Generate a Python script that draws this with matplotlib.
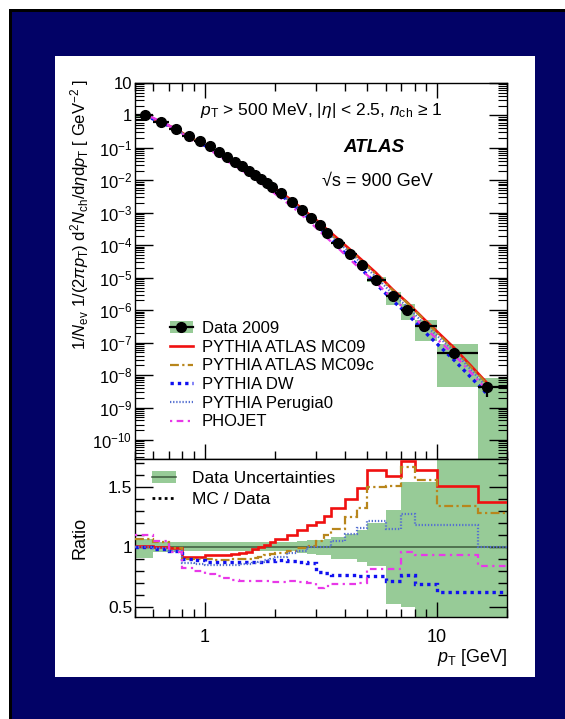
import numpy as np
import matplotlib
matplotlib.use("Agg")
import matplotlib.pyplot as plt
from matplotlib.patches import Rectangle, Patch
from matplotlib.lines import Line2D
from matplotlib.ticker import FixedLocator, MultipleLocator, FuncFormatter, NullFormatter

plt.rcParams['font.family'] = ['Liberation Sans', 'DejaVu Sans']
plt.rcParams['mathtext.fontset'] = 'custom'
plt.rcParams['mathtext.rm'] = 'Liberation Sans'
plt.rcParams['mathtext.it'] = 'Liberation Sans:italic'
plt.rcParams['mathtext.bf'] = 'Liberation Sans:bold'

# ---- pT binning [GeV] ----
pt_edges = [0.5, 0.6, 0.7, 0.8, 0.9, 1.0, 1.1, 1.2, 1.3, 1.4, 1.5, 1.6, 1.7, 1.8, 1.9,
            2.0, 2.25, 2.5, 2.75, 3.0, 3.25, 3.5, 4.0, 4.5, 5.0, 6.0, 7.0, 8.0, 10.0, 15.0, 20.0]
pt_points = [0.55, 0.65, 0.75, 0.85, 0.95, 1.05, 1.15, 1.25, 1.35, 1.45, 1.55, 1.65, 1.75, 1.85, 1.95,
             2.12, 2.37, 2.62, 2.87, 3.12, 3.37, 3.74, 4.23, 4.73, 5.45, 6.45, 7.45, 8.8, 11.8, 16.4]

# ---- measured spectrum, 1/Nev 1/(2 pi pT) d2N/deta dpT [GeV^-2] ----
data_yield = [1.0, 0.62, 0.39, 0.24, 0.162, 0.112, 0.074, 0.052, 0.038, 0.0275, 0.020, 0.0148,
              0.011, 0.0083, 0.0063, 0.0040, 0.0022, 0.00118, 0.00068, 0.00041, 0.00024, 0.00012,
              5.2e-5, 2.4e-5, 8.7e-6, 2.7e-6, 1.0e-6, 3.2e-7, 4.7e-8, 4.2e-9]
stat_rel = [0.005] * 24 + [0.03, 0.05, 0.08, 0.10, 0.18, 0.48]
unc_up = [0.07, 0.045, 0.045] + [0.04] * 14 + [0.05, 0.055, 0.06, 0.065, 0.08, 0.11, 0.14,
                                               0.20, 0.31, 0.54, 0.54, 1.0, 1.0]
unc_dn = [0.09, 0.045, 0.045] + [0.035] * 14 + [0.05, 0.06, 0.065, 0.07, 0.095, 0.10, 0.12,
                                                0.16, 0.47, 0.50, 0.64, 0.91, 0.999]

# ---- MC / Data ratios per bin ----
ratio_mc09 = [1.01, 1.00, 0.99, 0.92, 0.92, 0.93, 0.93, 0.93, 0.94, 0.95, 0.96, 0.98, 1.00, 1.02, 1.04,
              1.07, 1.10, 1.14, 1.18, 1.21, 1.26, 1.32, 1.40, 1.49, 1.64, 1.59, 1.71, 1.64, 1.51, 1.37]
ratio_mc09c = [1.07, 1.04, 0.99, 0.90, 0.90, 0.90, 0.895, 0.895, 0.90, 0.90, 0.905, 0.91, 0.92, 0.93, 0.94,
               0.95, 0.97, 0.99, 1.01, 1.05, 1.10, 1.15, 1.25, 1.32, 1.50, 1.51, 1.66, 1.56, 1.34, 1.28]
ratio_dw = [1.00, 0.98, 0.97, 0.90, 0.89, 0.88, 0.875, 0.875, 0.875, 0.875, 0.875, 0.88, 0.88, 0.885, 0.885,
            0.89, 0.885, 0.88, 0.87, 0.79, 0.785, 0.77, 0.77, 0.76, 0.76, 0.72, 0.77, 0.69, 0.63, 0.63]
ratio_perugia0 = [1.00, 0.99, 0.97, 0.87, 0.86, 0.85, 0.85, 0.85, 0.85, 0.86, 0.86, 0.87, 0.88, 0.89, 0.90,
                  0.92, 0.95, 0.97, 1.00, 1.00, 1.00, 1.05, 1.11, 1.16, 1.22, 1.15, 1.27, 1.18, 1.18, 1.00]
ratio_phojet = [1.10, 1.05, 0.96, 0.83, 0.80, 0.78, 0.76, 0.74, 0.73, 0.72, 0.72, 0.715, 0.715, 0.715, 0.71,
                0.71, 0.715, 0.71, 0.70, 0.66, 0.68, 0.69, 0.69, 0.70, 0.82, 0.82, 0.96, 0.93, 0.93, 0.84]

mc_labels = ['PYTHIA ATLAS MC09', 'PYTHIA ATLAS MC09c', 'PYTHIA DW', 'PYTHIA Perugia0', 'PHOJET']

# ---- styles ----
navy = '#020266'
green = '#97cb97'
mc_styles = [
    dict(color='#f01010', lw=1.9, ls='-'),
    dict(color='#b8861c', lw=1.6, ls=(0, (4, 1.5, 1, 1.5))),
    dict(color='#1010f0', lw=2.4, ls=(0, (1, 1.2))),
    dict(color='#5570d0', lw=1.6, ls=(0, (0.6, 0.8))),
    dict(color='#e838e8', lw=1.6, ls=(0, (1, 2, 3, 2))),
]
mc_ratios = [ratio_mc09, ratio_mc09c, ratio_dw, ratio_perugia0, ratio_phojet]

edges = np.array(pt_edges)
pts = np.array(pt_points)
yv = np.array(data_yield)
up = np.array(unc_up)
dn = np.array(unc_dn)

W, H = 565, 719
fig = plt.figure(figsize=(W / 100, H / 100), dpi=100, facecolor=navy)

def fx(px):
    return px / W

def fy(py):
    return 1 - py / H

def frame_rect(x0, y0, w, h, color, z):
    fig.patches.append(Rectangle((fx(x0), fy(y0 + h)), w / W, h / H, transform=fig.transFigure,
                                 facecolor=color, edgecolor='none', lw=0, zorder=z))

# page frame
frame_rect(0, 0, W, 9, 'white', -5)
frame_rect(0, 0, 9, H, 'white', -5)
frame_rect(9, 9, W - 9, 3, 'black', -4)
frame_rect(9, 9, 3, H - 9, 'black', -4)
frame_rect(55, 56, 480, 621, 'white', -3)

ax = fig.add_axes([fx(135), fy(459), 372 / W, 376 / H])
rax = fig.add_axes([fx(135), fy(617), 372 / W, 158 / H], sharex=ax)

# ---- main panel ----
widths = np.diff(edges)
ax.bar(edges[:-1], yv * (up + dn), bottom=yv * (1 - dn), width=widths, align='edge',
       color=green, lw=0, zorder=1)
for r, st in zip(mc_ratios, mc_styles):
    ax.plot(pts, yv * np.array(r), zorder=2, **st)
ax.errorbar(pts, yv, xerr=[pts - edges[:-1], edges[1:] - pts], yerr=yv * np.array(stat_rel),
            fmt='o', color='black', ms=7, lw=1.6, capsize=0, zorder=3)

ax.set_xscale('log')
ax.set_yscale('log')
ax.set_xlim(0.5, 20)
ax.set_ylim(2.6e-11, 10)

ax.yaxis.set_major_locator(FixedLocator([10.0 ** k for k in range(-10, 2)]))
ax.yaxis.set_minor_locator(FixedLocator([m * 10.0 ** k for k in range(-11, 1) for m in range(2, 10)]))

def ylab(v, pos):
    k = int(round(np.log10(v)))
    if k == 1:
        return '10'
    if k == 0:
        return '1'
    return r'$10^{%d}$' % k

ax.yaxis.set_major_formatter(FuncFormatter(ylab))
ax.yaxis.set_minor_formatter(NullFormatter())

xmaj = [1.0, 10.0]
xmin = [0.5, 0.6, 0.7, 0.8, 0.9, 2, 3, 4, 5, 6, 7, 8, 9, 20]
for a in (ax, rax):
    a.xaxis.set_major_locator(FixedLocator(xmaj))
    a.xaxis.set_minor_locator(FixedLocator(xmin))
    a.xaxis.set_minor_formatter(NullFormatter())
    for s in a.spines.values():
        s.set_linewidth(1.0)

ax.tick_params(axis='x', which='both', direction='in', top=True, bottom=True, labelbottom=False)
ax.tick_params(axis='x', which='major', length=11, width=1.0)
ax.tick_params(axis='x', which='minor', length=5.5, width=1.0)
ax.tick_params(axis='y', which='both', direction='in', left=True, right=True, labelsize=12, pad=2)
ax.tick_params(axis='y', which='major', length=13, width=1.0)
ax.tick_params(axis='y', which='minor', length=6.5, width=0.8)

# legend, main panel
data_handle = (Patch(facecolor=green, edgecolor='none'),
               Line2D([], [], color='black', lw=1.6, marker='o', ms=7))
mc_handles = [Line2D([], [], **st) for st in mc_styles]
ax.legend([data_handle] + mc_handles, ['Data 2009'] + mc_labels,
          loc='upper left', bbox_to_anchor=(fx(170), fy(321)), bbox_transform=fig.transFigure,
          frameon=False, fontsize=12, handlelength=1.35, handletextpad=0.55,
          labelspacing=0.22, borderpad=0, borderaxespad=0)

# labels
fig.text(fx(200), fy(110), r'$p_{\rm T}$ > 500 MeV, $|\eta|$ < 2.5, $n_{\rm ch}$ ≥ 1',
         fontsize=12.5, ha='left', va='center')
fig.text(fx(343), fy(147), 'ATLAS', fontsize=13.5, fontweight='bold', fontstyle='italic',
         ha='left', va='center')
fig.text(fx(322), fy(182), '√s = 900 GeV', fontsize=13, ha='left', va='center')
fig.text(fx(80), fy(214),
         r'$1/N_{\rm ev}$ $1/(2\pi p_{\rm T})$ ${\rm d}^{2}N_{\rm ch}/{\rm d}\eta{\rm d}p_{\rm T}$ [ GeV$^{-2}$ ]',
         fontsize=12, rotation=90, ha='center', va='center')

# ---- ratio panel ----
rax.bar(edges[:-1], up + dn, bottom=1 - dn, width=widths, align='edge', color=green, lw=0, zorder=1)
rax.axhline(1.0, color='#3c5a3c', lw=1.1, zorder=2)
for r, st in zip(mc_ratios, mc_styles):
    rax.stairs(r, edges, zorder=3, baseline=None, **st)

rax.set_ylim(0.42, 1.73)
rax.yaxis.set_major_locator(FixedLocator([0.5, 1.0, 1.5]))
rax.yaxis.set_minor_locator(MultipleLocator(0.1))
rax.yaxis.set_major_formatter(FuncFormatter(lambda v, p: {0.5: '0.5', 1.0: '1', 1.5: '1.5'}.get(round(v, 1), '')))
rax.tick_params(axis='y', which='both', direction='in', left=True, right=True, labelsize=12.5, pad=2)
rax.tick_params(axis='y', which='major', length=13, width=1.0)
rax.tick_params(axis='y', which='minor', length=6.5, width=1.0)
rax.tick_params(axis='x', which='both', direction='in', top=False, bottom=True, labelsize=13, pad=9)
rax.tick_params(axis='x', which='major', length=11, width=1.0)
rax.tick_params(axis='x', which='minor', length=5.5, width=1.0)
rax.xaxis.set_major_formatter(FuncFormatter(lambda v, p: '%d' % round(v)))

unc_handle = (Patch(facecolor=green, edgecolor='none'), Line2D([], [], color='#3c5a3c', lw=1.1))
ratio_handle = Line2D([], [], color='black', lw=2.0, ls=(0, (1, 1.2)))
rax.legend([unc_handle, ratio_handle], ['Data Uncertainties', 'MC / Data'],
           loc='upper left', bbox_to_anchor=(fx(152), fy(471)), bbox_transform=fig.transFigure,
           frameon=False, fontsize=12.5, handlelength=1.4, handletextpad=0.9,
           labelspacing=0.35, borderpad=0, borderaxespad=0)

fig.text(fx(80), fy(538), 'Ratio', fontsize=13, rotation=90, ha='center', va='center')
fig.text(fx(507), fy(658), r'$p_{\rm T}$ [GeV]', fontsize=13, ha='right', va='center')

fig.savefig('out.png', dpi=100, facecolor=navy)
